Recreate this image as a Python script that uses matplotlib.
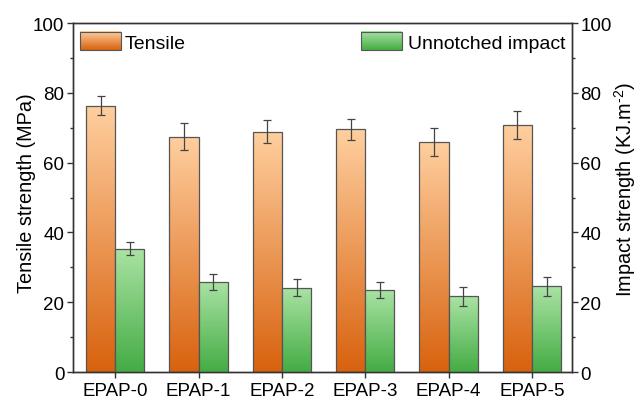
import numpy as np
import matplotlib
matplotlib.use('Agg')
import matplotlib.pyplot as plt
from matplotlib.colors import LinearSegmentedColormap, Normalize
from matplotlib.patches import Rectangle
from matplotlib.legend_handler import HandlerBase
from matplotlib.image import BboxImage
from matplotlib.transforms import Bbox, TransformedBbox

plt.rcParams['font.family'] = ['Liberation Sans', 'DejaVu Sans']
plt.rcParams['font.size'] = 13.5
plt.rcParams['mathtext.fontset'] = 'custom'
plt.rcParams['mathtext.rm'] = 'Liberation Sans'
plt.rcParams['mathtext.it'] = 'Liberation Sans'

samples = ['EPAP-0', 'EPAP-1', 'EPAP-2', 'EPAP-3', 'EPAP-4', 'EPAP-5']
tensile = [76.3, 67.4, 68.8, 69.6, 65.9, 70.8]
tensile_err = [2.7, 3.9, 3.3, 3.0, 4.1, 3.9]
impact = [35.4, 25.8, 24.2, 23.6, 21.7, 24.6]
impact_err = [1.8, 2.4, 2.5, 2.3, 2.8, 2.7]

orange = LinearSegmentedColormap.from_list('orange', ['#d8620e', '#ffcf9f'])
green = LinearSegmentedColormap.from_list('green', ['#44ac44', '#aae3a4'])
edge = '#555555'
axcol = '#333333'
grad = np.linspace(0, 1, 256).reshape(-1, 1)


def grad_bars(ax, bars, cmap):
    # fill each bar with a vertical gradient, clipped to the bar
    for b in bars:
        x0, y0 = b.get_x(), b.get_y()
        w, h = b.get_width(), b.get_height()
        im = ax.imshow(grad, cmap=cmap, aspect='auto', origin='lower',
                       extent=[x0, x0 + w, y0, y0 + h], zorder=1,
                       interpolation='bilinear')
        im.set_clip_path(b)


class GradHandler(HandlerBase):
    def __init__(self, cmap):
        super().__init__()
        self.cmap = cmap

    def create_artists(self, legend, orig_handle, xdescent, ydescent,
                       width, height, fontsize, trans):
        bb = TransformedBbox(Bbox.from_bounds(-xdescent, -ydescent, width, height), trans)
        img = BboxImage(bb, cmap=self.cmap, norm=Normalize(0, 1),
                        interpolation='bilinear', origin='lower')
        img.set_data(grad)
        rect = Rectangle((-xdescent, -ydescent), width, height, fill=False,
                         edgecolor=edge, lw=0.8, transform=trans)
        return [img, rect]


fig = plt.figure(figsize=(6.38, 4.02), dpi=100)
ax = fig.add_axes([0.114, 0.072, 0.7826, 0.8682])
ax2 = ax.twinx()

x = np.arange(len(samples))
w = 0.35

b1 = ax.bar(x - w / 2, tensile, w, facecolor='none', edgecolor=edge, lw=0.9, zorder=2)
b2 = ax2.bar(x + w / 2, impact, w, facecolor='none', edgecolor=edge, lw=0.9, zorder=2)
grad_bars(ax, b1, orange)
grad_bars(ax2, b2, green)
ax.errorbar(x - w / 2, tensile, yerr=tensile_err, fmt='none', ecolor='#444444',
            elinewidth=0.9, capsize=3, capthick=0.9, zorder=3)
ax2.errorbar(x + w / 2, impact, yerr=impact_err, fmt='none', ecolor='#444444',
             elinewidth=0.9, capsize=3, capthick=0.9, zorder=3)

for a in (ax, ax2):
    a.set_xlim(-0.51, 5.48)
    a.set_ylim(0, 100)
    a.set_yticks(np.arange(0, 101, 20))
    a.set_yticks(np.arange(10, 100, 20), minor=True)
    for s in a.spines.values():
        s.set_color(axcol)
        s.set_linewidth(1.0)

ax.set_xticks(x)
ax.set_xticklabels(samples)
ax.tick_params(axis='x', direction='out', length=4.5, width=1, color=axcol, pad=3)
ax.tick_params(axis='y', which='major', direction='out', length=4, width=1, color=axcol, pad=2)
ax.tick_params(axis='y', which='minor', direction='out', length=2, width=1, color=axcol)
ax2.tick_params(axis='y', which='major', direction='out', length=4, width=1, color=axcol, pad=2)
ax2.tick_params(axis='y', which='minor', direction='out', length=2, width=1, color=axcol)

ax.set_ylabel('Tensile strength (MPa)', fontsize=14.3)
ax2.set_ylabel(r'Impact strength (KJ.m$^{\text{-2}}$)', fontsize=14.3)
ax.yaxis.set_label_coords(-0.074, 0.516)
ax2.yaxis.set_label_coords(1.080, 0.525)

h1 = Rectangle((0, 0), 1, 1)
h2 = Rectangle((0, 0), 1, 1)
leg1 = ax2.legend([h1], ['Tensile'], loc='upper left', bbox_to_anchor=(0.015, 0.974),
                  frameon=False, borderpad=0, borderaxespad=0, handlelength=2.1,
                  handleheight=1.05, handletextpad=0.2, fontsize=14,
                  handler_map={h1: GradHandler(orange)})
ax2.add_artist(leg1)
ax2.legend([h2], ['Unnotched impact'], loc='upper right', bbox_to_anchor=(0.986, 0.974),
           frameon=False, borderpad=0, borderaxespad=0, handlelength=2.1,
           handleheight=1.05, handletextpad=0.3, fontsize=14,
           handler_map={h2: GradHandler(green)})

fig.savefig('out.png', dpi=100)
